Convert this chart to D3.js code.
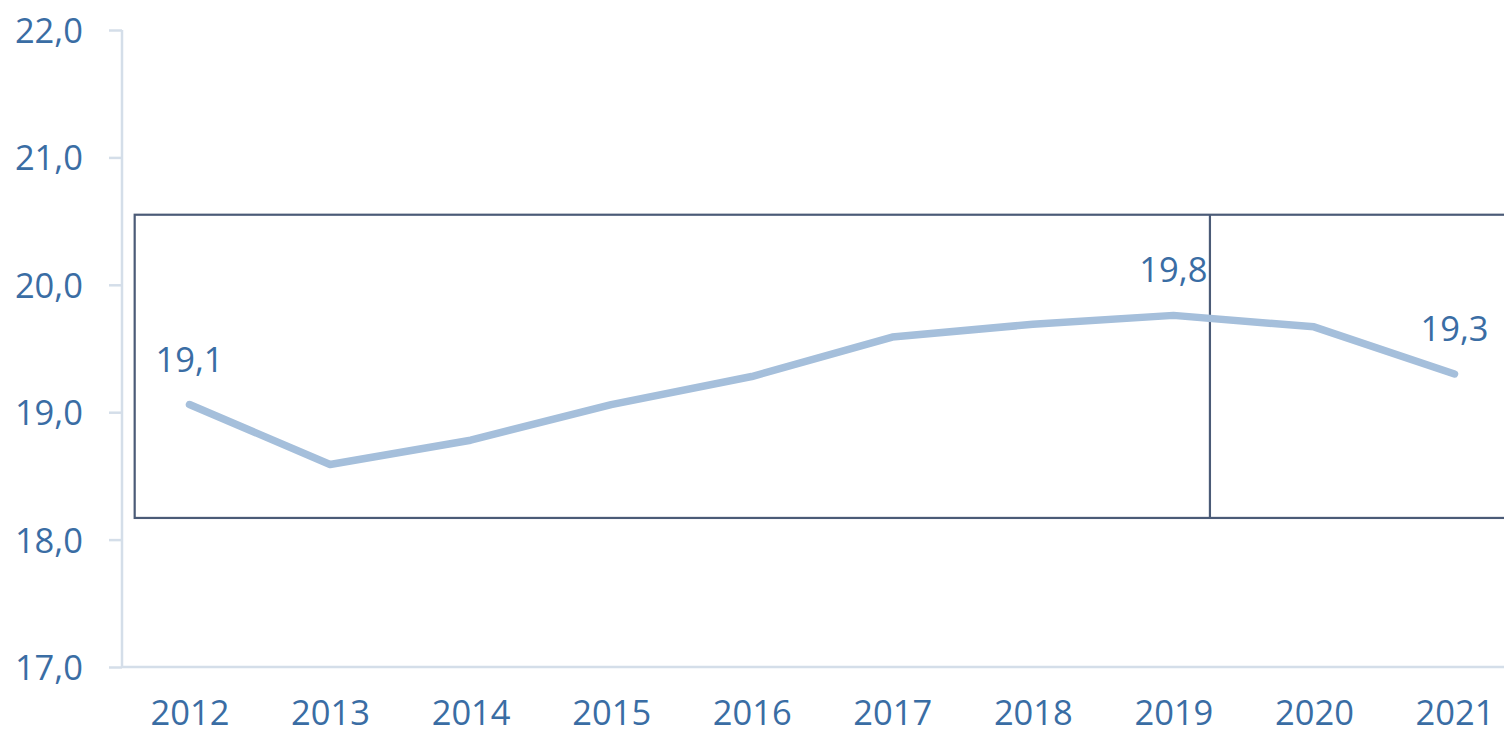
<!DOCTYPE html>
<html><head><meta charset="utf-8">
<script src="https://cdn.jsdelivr.net/npm/d3@7"></script>
<style>
html,body{margin:0;padding:0;background:#fff;}
svg{display:block;}
text{font-family:"Open Sans",sans-serif;}
</style></head>
<body>
<svg id="c" width="1504" height="734"></svg>
<script>
const years = ["2012","2013","2014","2015","2016","2017","2018","2019","2020","2021"];
const values = [19.06, 18.59, 18.78, 19.06, 19.28, 19.59, 19.69, 19.76, 19.67, 19.30];
const labelIdx = [0, 7, 9];
const labelText = ["19,1", "19,8", "19,3"];
const yTicks = [17, 18, 19, 20, 21, 22];

const svg = d3.select("#c");
const x = d3.scalePoint().domain(years).range([189.5, 1454.5]);
const y = d3.scaleLinear().domain([17, 22]).range([667, 30]);
const textColor = "#3a6da4";
const axisColor = "#d4dee9";
const fs = 34.5;

// y axis
const ya = svg.append("g").attr("transform", "translate(122,0)")
  .call(d3.axisLeft(y).tickValues(yTicks).tickSize(13).tickPadding(26)
    .tickFormat(d => d3.format(".1f")(d).replace(".", ",")));
ya.select(".domain").attr("stroke", axisColor).attr("stroke-width", 2.5).attr("d", `M0,${y(22)}V${y(17)}`);
ya.selectAll(".tick line").attr("stroke", axisColor).attr("stroke-width", 2.5);
ya.selectAll(".tick text").attr("fill", textColor).attr("font-size", fs).attr("dy", "0.36em");

// x axis
const xa = svg.append("g").attr("transform", `translate(0,${y(17)})`)
  .call(d3.axisBottom(x).tickSize(0));
xa.select(".domain").attr("stroke", axisColor).attr("stroke-width", 2.5).attr("d", `M122,0H1504`);
xa.selectAll(".tick text").attr("fill", textColor).attr("font-size", fs).attr("y", 58).attr("dy", 0);

// annotation box
const boxTop = 20.55, boxBottom = 18.17;
const step = x.step();
const boxLeft = x(years[0]) - 0.39 * step;
const divider = x(years[7]) + 0.26 * step;
svg.append("rect").attr("x", boxLeft).attr("y", y(boxTop))
  .attr("width", 1504 - boxLeft + 5).attr("height", y(boxBottom) - y(boxTop))
  .attr("fill", "none").attr("stroke", "#4b5b77").attr("stroke-width", 2.2);
svg.append("line").attr("x1", divider).attr("x2", divider)
  .attr("y1", y(boxTop)).attr("y2", y(boxBottom))
  .attr("stroke", "#4b5b77").attr("stroke-width", 2.2);

// line
svg.append("path").datum(values)
  .attr("d", d3.line().x((d, i) => x(years[i])).y(d => y(d)))
  .attr("fill", "none").attr("stroke", "#a5bfdb").attr("stroke-width", 7.5)
  .attr("stroke-linejoin", "round").attr("stroke-linecap", "round");

// labels
svg.selectAll(".lbl").data(labelIdx).enter().append("text")
  .attr("x", i => x(years[i]))
  .attr("y", i => y(values[i]) - 33)
  .attr("text-anchor", "middle").attr("fill", textColor).attr("font-size", fs)
  .text((d, k) => labelText[k]);
</script>
</body></html>
